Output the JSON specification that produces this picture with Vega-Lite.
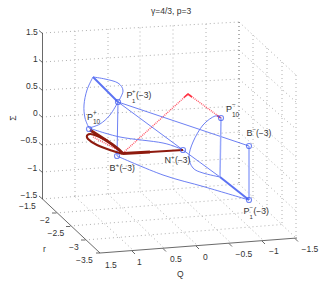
{"$schema":"https://vega.github.io/schema/vega-lite/v6.json","width":327,"height":286,"autosize":{"type":"fit","contains":"padding"},"padding":0,"background":"white","config":{"view":{"stroke":null}},
"encoding":{"x":{"field":"x","type":"quantitative","scale":{"domain":[0,327],"nice":false,"zero":false},"axis":null},"y":{"field":"y","type":"quantitative","scale":{"domain":[286,0],"nice":false,"zero":false},"axis":null}},
"datasets":{
"grid":[
{"x":75,"y":31,"x2":75,"y2":196.5},{"x":108,"y":29,"x2":108,"y2":194},{"x":140,"y":27.5,"x2":140,"y2":191.5},{"x":173,"y":25.5,"x2":173,"y2":189},{"x":206,"y":24,"x2":206,"y2":186.5},
{"x":42,"y":33,"x2":239,"y2":22},{"x":42,"y":62,"x2":239,"y2":50},{"x":42,"y":90,"x2":239,"y2":79},{"x":42,"y":117,"x2":239,"y2":106},{"x":42,"y":145,"x2":239,"y2":132},{"x":42,"y":172,"x2":239,"y2":158},{"x":42,"y":199,"x2":239,"y2":184},
{"x":253,"y":35,"x2":253,"y2":197.5},{"x":267,"y":48,"x2":267,"y2":211},{"x":282,"y":62,"x2":282,"y2":224.5},{"x":296,"y":75,"x2":296,"y2":238},
{"x":239,"y":22,"x2":296,"y2":75},{"x":239,"y":50,"x2":296,"y2":102},{"x":239,"y":79,"x2":296,"y2":129},{"x":239,"y":106,"x2":296,"y2":157},{"x":239,"y":132,"x2":296,"y2":184},{"x":239,"y":158,"x2":296,"y2":211},{"x":239,"y":184,"x2":296,"y2":238},
{"x":75,"y":196.5,"x2":134,"y2":251},{"x":108,"y":194,"x2":165,"y2":249},{"x":140,"y":191.5,"x2":198,"y2":246},{"x":173,"y":189,"x2":231,"y2":243},{"x":206,"y":186.5,"x2":264,"y2":241},
{"x":56,"y":213,"x2":253,"y2":197.5},{"x":70,"y":226,"x2":267,"y2":211},{"x":85,"y":240,"x2":282,"y2":224.5}],
"edges":[{"x":239,"y":22,"x2":239,"y2":184}],
"axes":[
{"x":42.5,"y":33,"x2":42.5,"y2":199},{"x":42.5,"y":199,"x2":100,"y2":253},{"x":100,"y":253,"x2":297,"y2":238},
{"x":39,"y":30.5,"x2":42.5,"y2":33.5},{"x":39,"y":59.5,"x2":42.5,"y2":62.5},{"x":39,"y":87.5,"x2":42.5,"y2":90.5},{"x":39,"y":114.5,"x2":42.5,"y2":117.5},{"x":39,"y":142.5,"x2":42.5,"y2":145.5},{"x":39,"y":169.5,"x2":42.5,"y2":172.5},{"x":39,"y":196,"x2":42.5,"y2":199},
{"x":52,"y":213,"x2":56,"y2":213},{"x":66,"y":226.5,"x2":70,"y2":226.5},{"x":81,"y":240,"x2":85,"y2":240},{"x":96,"y":253,"x2":100,"y2":253},
{"x":132,"y":251,"x2":135,"y2":254},{"x":163,"y":248.5,"x2":166,"y2":251.5},{"x":196,"y":246,"x2":199,"y2":249},{"x":229,"y":243.5,"x2":232,"y2":246.5},{"x":262,"y":241,"x2":265,"y2":244},{"x":295,"y":238.5,"x2":298,"y2":241.5}],
"blueStraight":[
{"x":118,"y":102,"x2":117,"y2":156},{"x":118,"y":102,"x2":249,"y2":146},{"x":118,"y":102,"x2":183,"y2":150},{"x":183,"y":150,"x2":220,"y2":177}],
"blueThick":[
{"x":93,"y":77,"x2":118,"y2":102},{"x":220,"y":177,"x2":249,"y2":200}],
"blueLight":[
{"x":221,"y":118,"x2":220,"y2":177},{"x":249,"y":146,"x2":249,"y2":200}],
"curves":[
{"id":"a","o":1,"x":93,"y":77},{"id":"a","o":2,"x":105,"y":79},{"id":"a","o":3,"x":118,"y":83},{"id":"a","o":4,"x":123,"y":91},{"id":"a","o":5,"x":118,"y":102},
{"id":"b","o":1,"x":93,"y":77},{"id":"b","o":2,"x":87,"y":90},{"id":"b","o":3,"x":84,"y":105},{"id":"b","o":4,"x":85,"y":118},{"id":"b","o":5,"x":89,"y":128},
{"id":"c","o":1,"x":89,"y":128},{"id":"c","o":2,"x":100,"y":124},{"id":"c","o":3,"x":110,"y":115},{"id":"c","o":4,"x":118,"y":102},
{"id":"d","o":1,"x":117,"y":156},{"id":"d","o":2,"x":163,"y":175},{"id":"d","o":3,"x":205,"y":187},{"id":"d","o":4,"x":249,"y":200},
{"id":"e","o":1,"x":89,"y":128},{"id":"e","o":2,"x":120,"y":137},{"id":"e","o":3,"x":163,"y":143},{"id":"e","o":4,"x":183,"y":150},
{"id":"f","o":1,"x":221,"y":118},{"id":"f","o":2,"x":215,"y":116},{"id":"f","o":3,"x":203,"y":125},{"id":"f","o":4,"x":193,"y":142},{"id":"f","o":5,"x":189,"y":157},{"id":"f","o":6,"x":193,"y":168},{"id":"f","o":7,"x":203,"y":173},{"id":"f","o":8,"x":220,"y":177}],
"red":[
{"id":"r1","o":1,"x":123,"y":153},{"id":"r1","o":2,"x":188,"y":94},{"id":"r1","o":3,"x":221,"y":118},
{"id":"r2","o":1,"x":93,"y":137},{"id":"r2","o":2,"x":120,"y":151}],
"redSolid":[
{"id":"p","o":1,"x":184,"y":97.5},{"id":"p","o":2,"x":188,"y":94},{"id":"p","o":3,"x":192,"y":97},
{"id":"q","o":1,"x":217,"y":115.5},{"id":"q","o":2,"x":221,"y":118}],
"darkThick":[
{"id":"l1","o":1,"x":150,"y":152},{"id":"l1","o":2,"x":123,"y":153.5},
{"id":"l2","o":1,"x":123,"y":153.5},{"id":"l2","o":2,"x":113,"y":145},{"id":"l2","o":3,"x":90,"y":130}],
"dark":[
{"id":"l0","o":1,"x":183,"y":150},{"id":"l0","o":2,"x":150,"y":152},
{"id":"l3","o":1,"x":123,"y":154},{"id":"l3","o":2,"x":113,"y":151},{"id":"l3","o":3,"x":97,"y":145},{"id":"l3","o":4,"x":88,"y":139},{"id":"l3","o":5,"x":87.5,"y":135},{"id":"l3","o":6,"x":93,"y":134.5},{"id":"l3","o":7,"x":108,"y":141}],
"pts":[{"x":118,"y":102},{"x":89,"y":129},{"x":117,"y":156},{"x":183,"y":150},{"x":249,"y":146},{"x":249,"y":200},{"x":221,"y":118}],
"labels":[
{"t":"γ=4/3,  p=3","x":151,"y":11,"s":8.5},
{"t":"1.5","x":26,"y":32,"s":8.5},{"t":"1","x":33,"y":59,"s":8.5},{"t":"0.5","x":26,"y":86,"s":8.5},{"t":"0","x":33,"y":113,"s":8.5},{"t":"−0.5","x":20.5,"y":140,"s":8.5},{"t":"−1","x":27.5,"y":168,"s":8.5},{"t":"−1.5","x":20.5,"y":195,"s":8.5},
{"t":"−1.5","x":19,"y":206,"s":8.5},{"t":"−2","x":40,"y":220,"s":8.5},{"t":"−2.5","x":47.5,"y":233,"s":8.5},{"t":"−3","x":69,"y":247,"s":8.5},{"t":"−3.5","x":76,"y":260,"s":8.5},
{"t":"1.5","x":105,"y":265,"s":8.5},{"t":"1","x":137,"y":262,"s":8.5},{"t":"0.5","x":170,"y":259,"s":8.5},{"t":"0","x":203,"y":256.5,"s":8.5},{"t":"−0.5","x":235.5,"y":254,"s":8.5},{"t":"−1","x":269,"y":251,"s":8.5},{"t":"−1.5","x":301.5,"y":249,"s":8.5},
{"t":"Q","x":177,"y":274,"s":8.5},{"t":"r","x":43,"y":249,"s":8.5},
{"t":"P","x":126.5,"y":95,"s":9},{"t":"+","x":132,"y":90.5,"s":6},{"t":"1","x":132,"y":100.5,"s":6},{"t":"(−3)","x":136,"y":95,"s":8.5},
{"t":"P","x":87,"y":117,"s":9},{"t":"+","x":93,"y":113,"s":6.5},{"t":"10","x":93,"y":122,"s":6.5},
{"t":"P","x":226,"y":109,"s":9},{"t":"−","x":232,"y":105,"s":6.5},{"t":"10","x":232,"y":115,"s":6.5},
{"t":"B","x":246.5,"y":133,"s":9},{"t":"−","x":252.5,"y":129,"s":6},{"t":"(−3)","x":256,"y":133,"s":8.5},
{"t":"B","x":109.5,"y":168,"s":9},{"t":"+","x":115.5,"y":164.5,"s":6},{"t":"(−3)","x":119.5,"y":168,"s":8.5},
{"t":"N","x":164.5,"y":160,"s":9},{"t":"+","x":171,"y":156.5,"s":6},{"t":"(−3)","x":175,"y":160,"s":8.5},
{"t":"P","x":243.5,"y":211,"s":9},{"t":"−","x":249.5,"y":206.5,"s":6},{"t":"1","x":249.5,"y":216.5,"s":6},{"t":"(−3)","x":253.5,"y":211,"s":8.5}],
"rot":[{"t":"Σ","x":13,"y":118}]
},
"layer":[
{"data":{"name":"grid"},"mark":{"type":"rule","color":"#b0b0b0","strokeWidth":1,"strokeDash":[1,3]},"encoding":{"x2":{"field":"x2"},"y2":{"field":"y2"}}},
{"data":{"name":"edges"},"mark":{"type":"rule","color":"#666666","strokeWidth":1,"strokeDash":[1,3]},"encoding":{"x2":{"field":"x2"},"y2":{"field":"y2"}}},
{"data":{"name":"axes"},"mark":{"type":"rule","color":"#444444","strokeWidth":0.8},"encoding":{"x2":{"field":"x2"},"y2":{"field":"y2"}}},
{"data":{"name":"red"},"mark":{"type":"line","color":"#ff5566","strokeWidth":1.4,"strokeDash":[1,1]},"encoding":{"detail":{"field":"id"},"order":{"field":"o"}}},
{"data":{"name":"redSolid"},"mark":{"type":"line","color":"#ff3344","strokeWidth":1.6},"encoding":{"detail":{"field":"id"},"order":{"field":"o"}}},
{"data":{"name":"curves"},"mark":{"type":"line","color":"#5c72f2","strokeWidth":0.9,"interpolate":"cardinal"},"encoding":{"detail":{"field":"id"},"order":{"field":"o"}}},
{"data":{"name":"blueStraight"},"mark":{"type":"rule","color":"#5c72f2","strokeWidth":0.9},"encoding":{"x2":{"field":"x2"},"y2":{"field":"y2"}}},
{"data":{"name":"blueLight"},"mark":{"type":"rule","color":"#98a8fa","strokeWidth":1.5},"encoding":{"x2":{"field":"x2"},"y2":{"field":"y2"}}},
{"data":{"name":"blueThick"},"mark":{"type":"rule","color":"#5c72f2","strokeWidth":2},"encoding":{"x2":{"field":"x2"},"y2":{"field":"y2"}}},
{"data":{"name":"dark"},"mark":{"type":"line","color":"#8e1a0e","strokeWidth":2.1,"interpolate":"cardinal"},"encoding":{"detail":{"field":"id"},"order":{"field":"o"}}},
{"data":{"name":"darkThick"},"mark":{"type":"line","color":"#8e1a0e","strokeWidth":2.8,"interpolate":"cardinal"},"encoding":{"detail":{"field":"id"},"order":{"field":"o"}}},
{"data":{"name":"pts"},"mark":{"type":"point","shape":"circle","color":"#3a55ee","filled":false,"size":26,"strokeWidth":1.1}},
{"data":{"name":"labels"},"mark":{"type":"text","align":"left","baseline":"middle","font":"Liberation Sans","color":"#333333"},"encoding":{"text":{"field":"t"},"size":{"field":"s","type":"quantitative","scale":null}}},
{"data":{"name":"rot"},"mark":{"type":"text","align":"center","baseline":"middle","angle":270,"font":"Liberation Sans","fontSize":8.5,"color":"#333333"},"encoding":{"text":{"field":"t"}}}
]}
